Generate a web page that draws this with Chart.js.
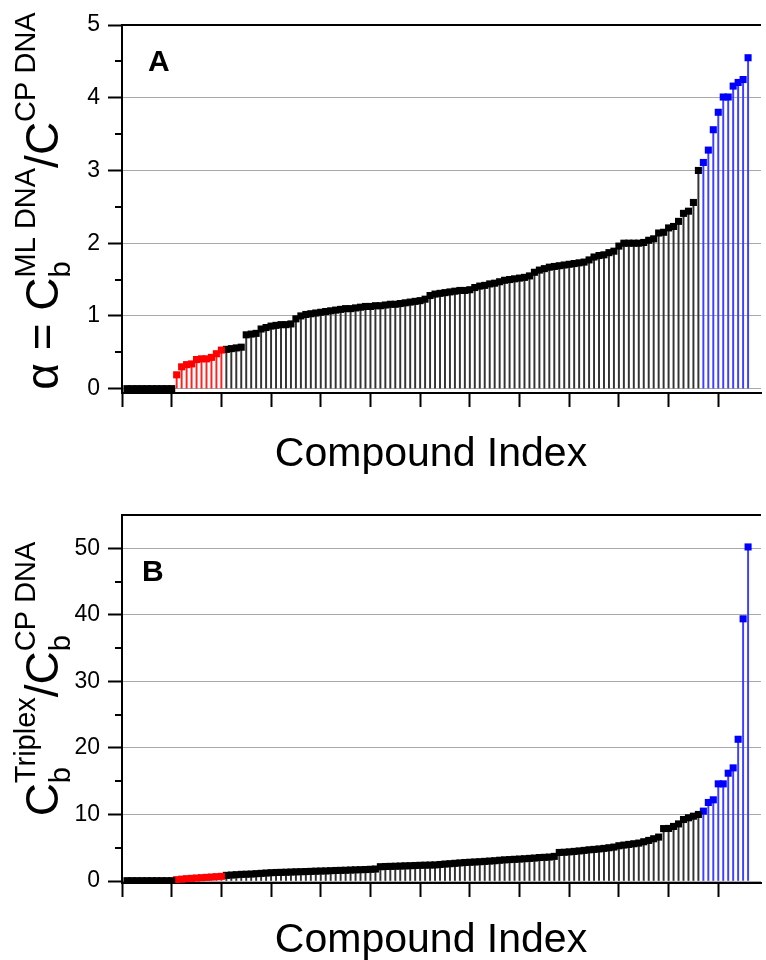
<!DOCTYPE html>
<html><head><meta charset="utf-8">
<script src="https://cdn.jsdelivr.net/npm/chart.js@4.4.1/dist/chart.umd.min.js"></script>
<style>
html,body{margin:0;padding:0;background:#fff;}
#wrap{position:relative;width:766px;height:960px;overflow:hidden;background:#fff;}
canvas{position:absolute;left:0;}
</style></head><body>
<div id="wrap">
<canvas id="cA" width="766" height="480" style="top:0"></canvas>
<canvas id="cB" width="766" height="480" style="top:480px"></canvas>
</div>
<script>
// ---------- Panel A: alpha = Cb(ML DNA)/C(CP DNA), sorted ----------
const alphaZero  = [0,0,0,0,0,0,0,0,0,0];
const alphaRed   = [0.19,0.30,0.33,0.34,0.40,0.41,0.41,0.43,0.48,0.53];
const alphaBlack = [
  0.54,0.55,0.56,0.57,0.74,0.75,0.76,0.82,0.84,0.86,
  0.87,0.88,0.88,0.89,0.96,1.00,1.02,1.03,1.04,1.05,
  1.06,1.07,1.08,1.09,1.10,1.10,1.11,1.12,1.13,1.13,
  1.14,1.14,1.15,1.16,1.16,1.17,1.18,1.19,1.20,1.21,
  1.23,1.28,1.30,1.31,1.32,1.33,1.34,1.35,1.35,1.36,
  1.39,1.41,1.42,1.44,1.45,1.47,1.49,1.50,1.51,1.52,
  1.53,1.55,1.60,1.63,1.65,1.67,1.68,1.69,1.70,1.71,
  1.72,1.73,1.74,1.77,1.81,1.83,1.84,1.87,1.89,1.96,
  2.00,2.00,2.00,2.00,2.01,2.04,2.06,2.14,2.15,2.21,
  2.23,2.30,2.41,2.44,2.56,3.00];
const alphaBlue  = [3.11,3.28,3.56,3.80,4.01,4.01,4.16,4.21,4.25,4.55];

// ---------- Panel B: Cb(Triplex)/Cb(CP DNA), sorted ----------
const ratioZero  = [0.05,0.05,0.05,0.05,0.05,0.05,0.05,0.05,0.05,0.05];
const ratioRed   = [0.20,0.28,0.35,0.40,0.45,0.50,0.55,0.60,0.65,0.70];
const ratioBlack = [
  0.85,0.90,0.95,1.00,1.02,1.05,1.10,1.15,1.20,1.25,
  1.28,1.30,1.32,1.35,1.38,1.40,1.42,1.45,1.48,1.50,
  1.52,1.55,1.58,1.60,1.62,1.65,1.68,1.70,1.72,1.76,
  1.80,2.15,2.18,2.20,2.22,2.25,2.28,2.30,2.33,2.36,
  2.38,2.40,2.42,2.48,2.55,2.60,2.66,2.72,2.78,2.82,
  2.86,2.90,2.95,3.00,3.05,3.12,3.18,3.22,3.26,3.30,
  3.35,3.40,3.45,3.53,3.56,3.60,3.70,4.29,4.32,4.38,
  4.45,4.52,4.60,4.69,4.75,4.82,4.90,5.00,5.10,5.30,
  5.40,5.50,5.60,5.70,5.90,6.10,6.35,6.60,7.88,7.90,
  8.20,8.58,9.24,9.50,9.74,10.00];
const ratioBlue  = [10.5,11.8,12.2,14.6,14.6,16.2,17.0,21.3,39.4,50.2];

// ---------- Ticks ----------
const xTicks      = [0,10,20,30,40,50,60,70,80,90,100,110,120];
const yTicksA     = [0,1,2,3,4,5];
const yMinorA     = [0.5,1.5,2.5,3.5,4.5];
const yTicksB     = [0,10,20,30,40,50];
const yMinorB     = [5,15,25,35,45];

const FONT = '"Liberation Sans", Arial, Helvetica, sans-serif';
const groupStyles = [
  {marker:'#000000', stem:'#333333'},
  {marker:'#ff0000', stem:'#ff2020'},
  {marker:'#000000', stem:'#333333'},
  {marker:'#0000ff', stem:'#3f3fff'}
];

function buildDatasets(groups){
  const ds = [];
  let offset = 0;
  groups.forEach((vals, gi) => {
    const pts = vals.map((v, j) => ({x: offset + j + 1, y: v}));
    offset += vals.length;
    const st = groupStyles[gi];
    ds.push({type:'bar', data:pts, backgroundColor:st.stem, borderWidth:0,
             barThickness:1.3, grouped:false, order:2});
    ds.push({type:'scatter', data:pts, pointStyle:'rect', pointRadius:5,
             pointBorderWidth:0, backgroundColor:st.marker, pointBackgroundColor:st.marker,
             showLine:false, order:0});
  });
  return ds;
}

function drawYTitle(ctx, segs, bx, cy){
  const F = s => s + 'px ' + FONT;
  let L = 0;
  segs.forEach(seg => {
    const items = seg.stack || [seg];
    let w = 0;
    items.forEach(it => { ctx.font = F(it.size); w = Math.max(w, ctx.measureText(it.t).width); });
    seg._w = w; L += w;
  });
  ctx.save();
  ctx.translate(bx, cy);
  ctx.rotate(-Math.PI/2);
  ctx.textAlign = 'left';
  ctx.textBaseline = 'alphabetic';
  ctx.fillStyle = '#000';
  let u = -L/2;
  segs.forEach(seg => {
    (seg.stack || [seg]).forEach(it => { ctx.font = F(it.size); ctx.fillText(it.t, u, it.dy || 0); });
    u += seg._w;
  });
  ctx.restore();
}

const decorPlugin = {
  id: 'decor',
  afterDraw(chart, args, o){
    const ctx = chart.ctx, a = chart.chartArea, y = chart.scales.y;
    ctx.save();
    ctx.strokeStyle = '#000';
    ctx.lineWidth = 2;
    ctx.beginPath(); ctx.moveTo(a.left - 1, a.top); ctx.lineTo(a.right, a.top); ctx.stroke();
    o.minor.forEach(v => {
      const py = Math.round(y.getPixelForValue(v));
      ctx.beginPath(); ctx.moveTo(a.left - 7, py); ctx.lineTo(a.left, py); ctx.stroke();
    });
    ctx.fillStyle = '#000';
    ctx.textBaseline = 'alphabetic';
    ctx.textAlign = 'left';
    ctx.font = 'bold 30px ' + FONT;
    ctx.fillText(o.letter, o.letterX, o.letterY);
    ctx.textAlign = 'center';
    ctx.font = '41px ' + FONT;
    ctx.fillText('Compound Index', o.xTitleX, o.xTitleY);
    ctx.restore();
    drawYTitle(ctx, o.yTitle, o.yTitleX, o.yTitleCY);
  }
};

function makeChart(id, groups, yMin, yMax, yTicks, yMinor, padTop, xHeight, decor){
  return new Chart(document.getElementById(id), {
    type: 'scatter',
    data: { datasets: buildDatasets(groups) },
    options: {
      responsive:false, animation:false, devicePixelRatio:1,
      layout:{padding:{top:padTop, left:0, right:0, bottom:0}},
      plugins:{legend:{display:false}, tooltip:{enabled:false}, title:{display:false}, decor:decor},
      scales:{
        x:{type:'linear', position:'bottom', min:0, max:128.6, offset:false,
           afterBuildTicks: s => { s.ticks = xTicks.map(v => ({value:v})); },
           afterFit: s => { s.height = xHeight; },
           ticks:{display:false},
           grid:{display:true, offset:false, drawOnChartArea:false, drawTicks:true, tickLength:14,
                 tickWidth:2, tickColor:'#000', color:'#000'},
           border:{display:true, color:'#000', width:2}},
        y:{type:'linear', position:'left', min:yMin, max:yMax,
           afterBuildTicks: s => { s.ticks = yTicks.map(v => ({value:v})); },
           afterFit: s => { s.width = 122; },
           ticks:{color:'#000', padding:8, font:{family:FONT, size:23}},
           grid:{color:'#a8a8a8', lineWidth:1, drawTicks:true, tickLength:14, tickWidth:2, tickColor:'#000'},
           border:{display:true, color:'#000', width:2}}
      }
    },
    plugins:[decorPlugin]
  });
}

makeChart('cA', [alphaZero, alphaRed, alphaBlack, alphaBlue], -0.06, 5, yTicksA, yMinorA, 25, 87, {
  minor: yMinorA, letter:'A', letterX:148, letterY:71, xTitleX:431, xTitleY:466,
  yTitleX:58, yTitleCY:201,
  yTitle:[{t:'α = C', size:46},
          {stack:[{t:'b', size:29, dy:12}, {t:'ML DNA', size:29, dy:-23}]},
          {t:'/C', size:46},
          {stack:[{t:'CP DNA', size:29, dy:-23}]}]
});

makeChart('cB', [ratioZero, ratioRed, ratioBlack, ratioBlue], -0.3, 55, yTicksB, yMinorB, 35, 77, {
  minor: yMinorB, letter:'B', letterX:142, letterY:101, xTitleX:431, xTitleY:472,
  yTitleX:58, yTitleCY:199,
  yTitle:[{t:'C', size:46},
          {stack:[{t:'b', size:29, dy:12}, {t:'Triplex', size:29, dy:-23}]},
          {t:'/C', size:46},
          {stack:[{t:'b', size:29, dy:12}, {t:'CP DNA', size:29, dy:-23}]}]
});
</script>
</body></html>
